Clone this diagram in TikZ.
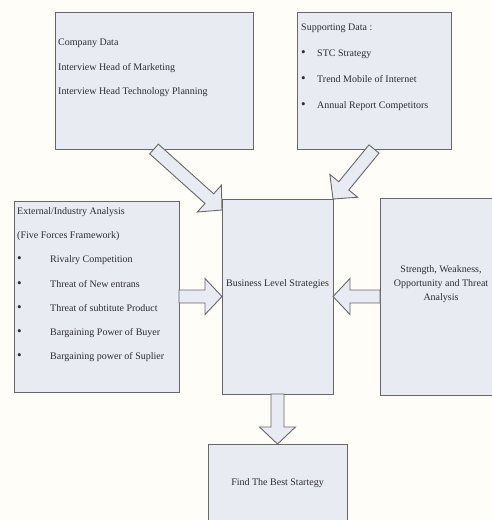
\documentclass[tikz,border=0pt]{standalone}
\usepackage{fontspec}
\setmainfont{Liberation Serif}
\usetikzlibrary{calc}
\usetikzlibrary{positioning}

\definecolor{boxfill}{RGB}{233,235,242}
\definecolor{boxline}{RGB}{104,104,106}
\definecolor{paper}{RGB}{254,253,248}
\definecolor{ink}{RGB}{45,45,50}

\tikzset{
  box/.style={draw=boxline, fill=boxfill, line width=1pt, rectangle,
    anchor=north west, inner sep=0pt, outer sep=0pt},
  lbl/.style={text=ink, inner sep=0pt, font=\fontsize{10}{24.5}\selectfont},
  fatarr/.style={draw=boxline, fill=boxfill, line width=0.9pt, line join=miter}
}

% block arrow from #1 to #2 (tip)
\def\shaftw{6.5pt}
\def\headw{18pt}
\def\headlen{17pt}
\newcommand{\fatarrow}[2]{%
  \coordinate (hb) at ($(#2)!\headlen!(#1)$);
  \draw[fatarr] ($(#1)!\shaftw!90:(#2)$) -- ($(hb)!\shaftw!-90:(#1)$)
    -- ($(hb)!\headw!-90:(#1)$) -- (#2) -- ($(hb)!\headw!90:(#1)$)
    -- ($(hb)!\shaftw!90:(#1)$) -- ($(#1)!\shaftw!-90:(#2)$) -- cycle;}
% bullet mark of the lists
\newcommand{\bul}[1]{\makebox[#1][l]{\fontsize{13}{13}\selectfont\textbullet}}

\begin{document}
\begin{tikzpicture}[x=1pt, y=-1pt]
  \fill[paper] (0,0) rectangle (492,520);
  \clip (0,0) rectangle (492,520);

  % boxes
  \node[box, minimum width=198pt, minimum height=137pt] (company) at (55,12) {};
  \node[box, minimum width=154pt, minimum height=137pt] (support) at (297,12) {};
  \node[box, minimum width=165pt, minimum height=191pt] (forces) at (14,201) {};
  \node[box, minimum width=111pt, minimum height=195pt] (bls) at (222,199) {};
  \node[box, minimum width=122pt, minimum height=197pt] (swot) at (380,198) {};
  \node[box, minimum width=139pt, minimum height=92pt] (best) at (208,444) {};

  % texts
  \node[lbl, anchor=north west, align=left] (companytxt) at (58,39)
    {Company Data\\Interview Head of Marketing\\Interview Head Technology Planning};
  \node[lbl, anchor=north west, align=left, font=\fontsize{10}{26}\selectfont] (supporttxt) at (301,24)
    {Supporting Data :\\
     \bul{16pt}STC Strategy\\
     \bul{16pt}Trend Mobile of Internet\\
     \bul{16pt}Annual Report Competitors};
  \node[lbl, anchor=north west, align=left, font=\fontsize{10}{24.3}\selectfont] (forcestxt) at (17,207)
    {External/Industry Analysis\\
     (Five Forces Framework)\\
     \bul{33pt}Rivalry Competition\\
     \bul{33pt}Threat of New entrans\\
     \bul{33pt}Threat of subtitute Product\\
     \bul{33pt}Bargaining Power of Buyer\\
     \bul{33pt}Bargaining power of Suplier};
  \node[lbl] (blstxt) at ($(bls.center)+(0,-12.5)$) {Business Level Strategies};
  \node[lbl, align=center, font=\fontsize{10}{14}\selectfont] (swottxt) at ($(swot.center)+(0,-12.5)$)
    {Strength, Weakness,\\Opportunity and Threat\\Analysis};
  \node[lbl] (besttxt) at ($(best.north)+(0,39)$) {Find The Best Startegy};

  % connectors
  \coordinate (tipA) at ($(bls.north west)+(0,11)$);
  \fatarrow{company.south}{tipA}
  \fatarrow{support.south}{bls.north east}
  \fatarrow{forces.east}{bls.west}
  \fatarrow{swot.west}{bls.east}
  \fatarrow{bls.south}{best.north}
\end{tikzpicture}
\end{document}
